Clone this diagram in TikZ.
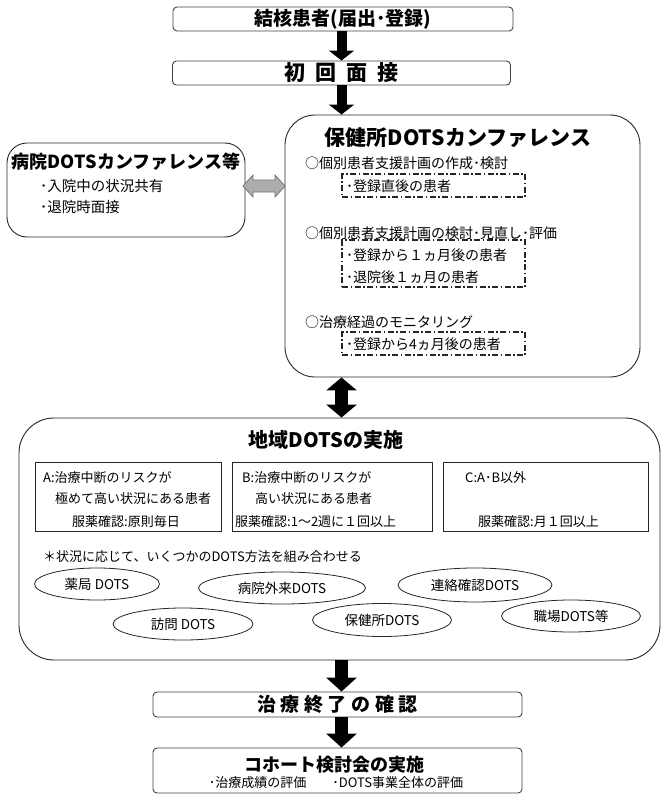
\documentclass[tikz,border=0pt]{standalone}
\usepackage{fontspec}
\setmainfont{Noto Sans CJK JP}
\usetikzlibrary{arrows.meta,shapes.geometric,calc}
\newcommand{\fsz}[1]{\fontsize{#1pt}{#1pt}\selectfont}
\begin{document}
\begin{tikzpicture}[x=1pt,y=-1pt,
  rbox/.style={draw=black!75, line width=0.9pt, rounded corners=4pt, inner sep=0pt},
  bigbox/.style={draw=black!85, line width=0.9pt, inner sep=0pt},
  dbox/.style={draw=black!85, line width=1.1pt, dash pattern=on 6pt off 2.5pt on 1.5pt off 2.5pt, inner sep=0pt},
  sqbox/.style={draw=black!85, line width=0.8pt, inner sep=0pt},
  oval/.style={ellipse, draw=black!85, line width=0.8pt, inner sep=0pt, font=\fsz{13.5}},
  txt/.style={inner sep=0pt, anchor=west, font=\fsz{14}},
  stxt/.style={inner sep=0pt, anchor=west, font=\fsz{13}},
  flowa/.style={line width=10pt, -{Triangle[width=25pt,length=10pt]}},
  flowb/.style={line width=13pt, -{Triangle[width=30pt,length=14pt]}},
  dflow/.style={line width=13pt, {Triangle[width=30pt,length=13pt]}-{Triangle[width=30pt,length=13pt]}},
  garrow/.style={draw=black!55, fill=black!32, line width=0.8pt, line join=miter}
]
\useasboundingbox (0,0) rectangle (662,797);

% top boxes
\node[rbox, minimum width=340pt, minimum height=24pt, font=\bfseries\fsz{19}] (kanja) at (343,19) {結核患者(届出･登録)};
\node[rbox, minimum width=338pt, minimum height=24pt, font=\bfseries\fsz{21}] (init) at (341.5,73) {初\hspace{10pt}回\hspace{10pt}面\hspace{10pt}接};

% left box
\node[bigbox, rounded corners=20pt, minimum width=238pt, minimum height=94pt] (byoin) at (126,190) {};
\node[inner sep=0pt, font=\bfseries\fsz{18}] (byoint) at (126,162) {病院DOTSカンファレンス等};
\node[txt, font=\fsz{14.5}] (b1) at (40,186) {･入院中の状況共有};
\node[txt, font=\fsz{14.5}] (b2) at (40,207) {･退院時面接};

% right box
\node[bigbox, rounded corners=30pt, minimum width=355pt, minimum height=262pt] (hoken) at (462.5,246) {};
\node[inner sep=0pt, font=\bfseries\fsz{21}] (hokent) at (458,138) {保健所DOTSカンファレンス};
\node[txt] (h1) at (305,163) {○個別患者支援計画の作成･検討};
\node[dbox, minimum width=183pt, minimum height=23pt] (d1) at (433.5,185.5) {};
\node[txt] (d1a) at (346,186) {･登録直後の患者};
\node[txt] (h2) at (305,233) {○個別患者支援計画の検討･見直し･評価};
\node[dbox, minimum width=183pt, minimum height=47pt] (d2) at (433.5,263.5) {};
\node[txt] (d2a) at (346,255) {･登録から１ヵ月後の患者};
\node[txt] (d2b) at (346,277) {･退院後１ヵ月の患者};
\node[txt] (h3) at (305,322) {○治療経過のモニタリング};
\node[dbox, minimum width=183pt, minimum height=23pt] (d3) at (433.5,343.5) {};
\node[txt] (d3a) at (346,344) {･登録から4ヵ月後の患者};

% big box
\node[bigbox, rounded corners=35pt, minimum width=641pt, minimum height=242pt] (chiiki) at (339.5,539) {};
\node[inner sep=0pt, font=\bfseries\fsz{20}] (chiikit) at (326,440) {地域DOTSの実施};

\node[sqbox, minimum width=186pt, minimum height=69pt] (ba) at (128,496.5) {};
\node[stxt] (a1) at (43,478) {A:治療中断のリスクが};
\node[stxt] (a2) at (55,499) {極めて高い状況にある患者};
\node[stxt] (a3) at (72,522) {服薬確認:原則毎日};

\node[sqbox, minimum width=200pt, minimum height=69pt] (bb) at (332,496.5) {};
\node[stxt] (bb1) at (242,478) {B:治療中断のリスクが};
\node[stxt] (bb2) at (255,499) {高い状況にある患者};
\node[stxt] (bb3) at (235,522) {服薬確認:1〜2週に１回以上};

\node[sqbox, minimum width=205pt, minimum height=69pt] (bc) at (545.5,496.5) {};
\node[stxt] (c1) at (465,478) {C:A･B以外};
\node[stxt] (c3) at (478,522) {服薬確認:月１回以上};

\node[stxt] (note) at (43,557) {＊状況に応じて、いくつかのDOTS方法を組み合わせる};

\node[oval, minimum width=125pt, minimum height=32pt] (e1) at (97,584) {薬局 DOTS};
\node[oval, minimum width=167pt, minimum height=32pt] (e2) at (282,588) {病院外来DOTS};
\node[oval, minimum width=154pt, minimum height=34pt] (e3) at (475,585) {連絡確認DOTS};
\node[oval, minimum width=140pt, minimum height=32pt] (e4) at (183,624) {訪問 DOTS};
\node[oval, minimum width=139pt, minimum height=33pt] (e5) at (382,620) {保健所DOTS};
\node[oval, minimum width=139pt, minimum height=32pt] (e6) at (571,616) {職場DOTS等};

% bottom boxes
\node[rbox, minimum width=369pt, minimum height=25pt, font=\bfseries\fsz{19}] (kakunin) at (337.5,704.5) {治\hspace{4.5pt}療\hspace{4.5pt}終\hspace{4.5pt}了\hspace{4.5pt}の\hspace{4.5pt}確\hspace{4.5pt}認};
\node[rbox, minimum width=369pt, minimum height=45pt] (cohort) at (337.5,770.5) {};
\node[inner sep=0pt, font=\bfseries\fsz{18}] (cohortt) at (334,765) {コホート検討会の実施};
\node[inner sep=0pt, font=\fsz{13}] (cohorts) at (336,783) {･治療成績の評価\hspace{2em}･DOTS事業全体の評価};

% connectors
\draw[flowa] (kanja.south -| init.south) -- (init.north);
\draw[flowa] (init.south) -- (init.south |- hoken.north);
\draw[dflow] (hoken.south -| init.south) -- (chiiki.north -| init.south);
\draw[flowb] (chiiki.south -| init.south) -- (kakunin.north -| init.south);
\draw[flowb] (kakunin.south -| init.south) -- (cohort.north -| init.south);

\coordinate (gl) at (243,186);
\coordinate (gr) at (285,186);
\draw[garrow] (gl) -- ([shift={(10,-11)}]gl) -- ([shift={(10,-6)}]gl) -- ([shift={(-10,-6)}]gr) -- ([shift={(-10,-11)}]gr) -- (gr) -- ([shift={(-10,11)}]gr) -- ([shift={(-10,6)}]gr) -- ([shift={(10,6)}]gl) -- ([shift={(10,11)}]gl) -- cycle;
\end{tikzpicture}
\end{document}
